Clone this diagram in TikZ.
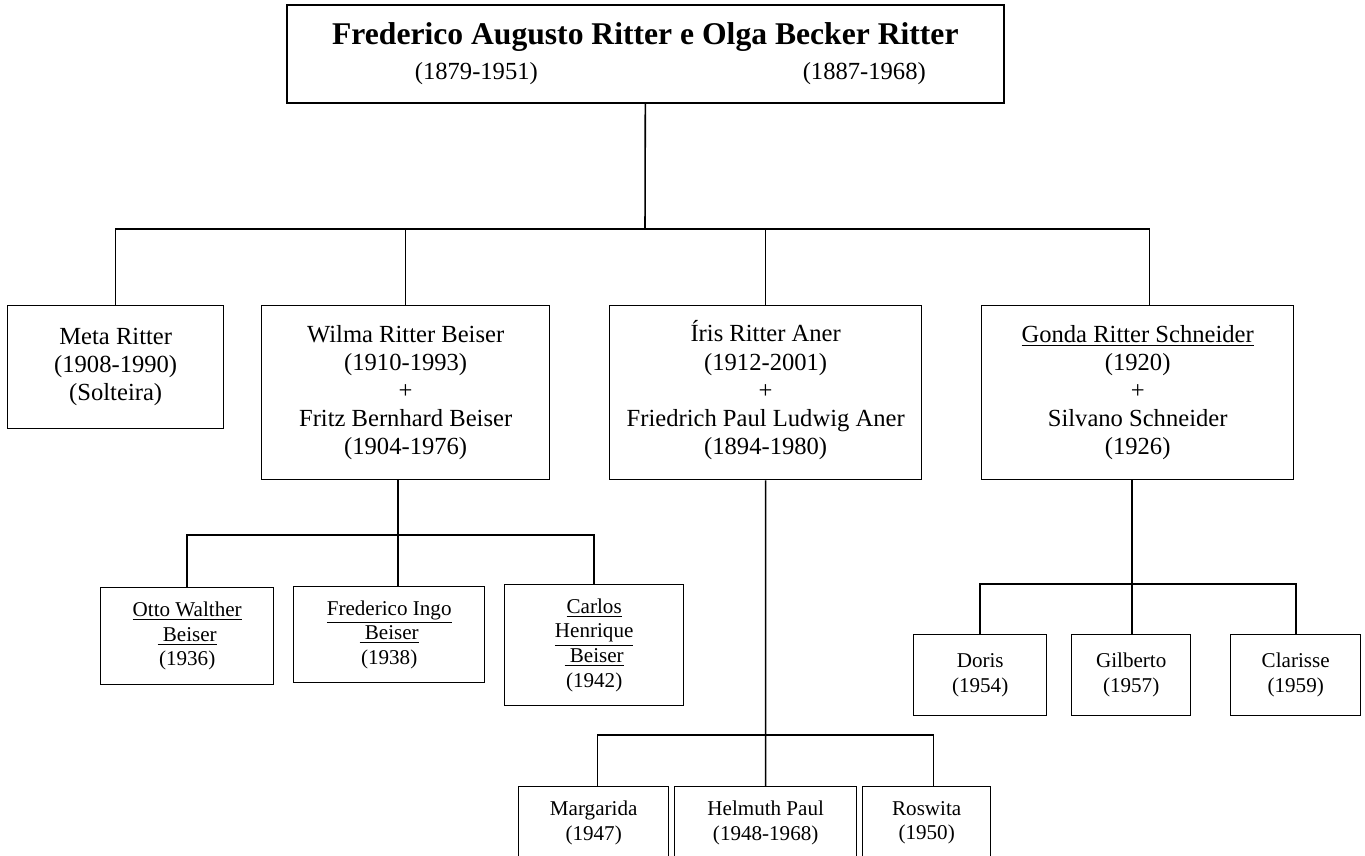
\documentclass[tikz,border=0pt]{standalone}
\usepackage{fontspec}
\setmainfont{Liberation Serif}
\usetikzlibrary{calc}

\begin{document}
\begin{tikzpicture}[x=0.02cm,y=-0.02cm,
		box/.style={draw,line width=0.8pt,anchor=north west,align=center,inner sep=0pt,font=\fontsize{14}{16}\selectfont},
		kid/.style={box,font=\fontsize{12}{14}\selectfont},
		link/.style={line width=0.9pt}]
		\useasboundingbox[fill=white] (0,0) rectangle (1365,855);
		%%%%% PARENTS %%%%%
		\node[box,line width=1pt,minimum width=14.34cm,minimum height=1.96cm,font=\fontsize{18}{21}\selectfont\bfseries] (top) at (286,4)
			{Frederico Augusto Ritter e Olga Becker Ritter\\[-1pt]
			\fontsize{14}{16}\selectfont\mdseries\hspace*{1cm}(1879-1951)\hspace{5.3cm}(1887-1968)};
		
		%%%%% CHILDREN %%%%%
		\node[box,minimum width=4.32cm,minimum height=2.46cm] (meta) at (7,305)
			{Meta Ritter\\(1908-1990)\\(Solteira)};
		\node[box,minimum width=5.76cm,minimum height=3.48cm] (wilma) at (261,305)
			{Wilma Ritter Beiser\\(1910-1993)\\+\\Fritz Bernhard Beiser\\(1904-1976)};
		\node[box,minimum width=6.24cm,minimum height=3.48cm] (iris) at (609,305)
			{\smash{Í}ris Ritter Aner\\(1912-2001)\\+\\Friedrich Paul Ludwig Aner\\(1894-1980)};
		\node[box,minimum width=6.24cm,minimum height=3.48cm] (gonda) at (981,305)
			{\underline{Gonda Ritter Schneider}\\(1920)\\+\\Silvano Schneider\\(1926)};
		
		\coordinate (bus1) at (645,229);
		\draw[link] (top.south) -- (bus1);
		\draw[link] (meta.north) |- (bus1) -| ([xshift=0.24cm]gonda.north);
		\draw[link] (wilma.north) -- (wilma.north |- bus1);
		\draw[link] (iris.north) -- (iris.north |- bus1);
		
		%%%%% BEISER %%%%%
		\node[kid,minimum width=3.46cm,minimum height=1.94cm] (otto) at (100,587)
			{\underline{Otto Walther}\\\underline{~Beiser}\\(1936)};
		\node[kid,minimum width=3.82cm,minimum height=1.92cm] (fred) at (293,586)
			{\underline{Frederico Ingo}\\\underline{~Beiser}\\(1938)};
		\node[kid,minimum width=3.58cm,minimum height=2.42cm] (carlos) at (504,584)
			{\underline{Carlos}\\\underline{Henrique}\\\underline{~Beiser}\\(1942)};
		
		\coordinate (bus2) at (398,535);
		\draw[link] (wilma.south -| bus2) -- (fred.north -| bus2);
		\draw[link] (otto.north) |- (bus2) -| (carlos.north);
		
		%%%%% ANER %%%%%
		\node[kid,minimum width=3.00cm,minimum height=1.44cm] (margarida) at (518,786)
			{Margarida\\(1947)};
		\node[kid,minimum width=3.64cm,minimum height=1.44cm] (helmuth) at (674,786)
			{Helmuth Paul\\(1948-1968)};
		\node[kid,minimum width=2.56cm,minimum height=1.44cm] (roswita) at (862,786)
			{Roswita\\(1950)};
		
		\coordinate (bus3) at (765,735);
		\draw[link] (iris.south) -- (helmuth.north);
		\draw[link] ([xshift=0.08cm]margarida.north) |- (bus3) -| ([xshift=0.14cm]roswita.north);
		
		%%%%% SCHNEIDER %%%%%
		\node[kid,minimum width=2.66cm,minimum height=1.62cm] (doris) at (913,634)
			{Doris\\(1954)};
		\node[kid,minimum width=2.38cm,minimum height=1.62cm] (gilberto) at (1071,634)
			{Gilberto\\(1957)};
		\node[kid,minimum width=2.60cm,minimum height=1.62cm] (clarisse) at (1230,634)
			{Clarisse\\(1959)};
		
		\coordinate (bus4) at (1132,584);
		\draw[link] (gonda.south -| bus4) -- (gilberto.north -| bus4);
		\draw[link] (doris.north) |- (bus4) -| (clarisse.north);
	\end{tikzpicture}
\end{document}
